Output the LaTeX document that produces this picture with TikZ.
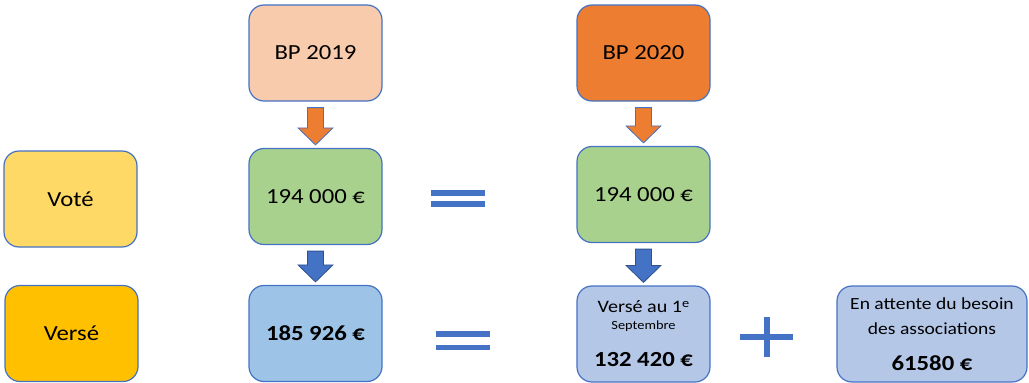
\documentclass[tikz,border=0pt]{standalone}
\usepackage{fontspec}
\setmainfont{Carlito}[FakeStretch=1.15]
\usetikzlibrary{calc}
\definecolor{bord}{HTML}{4472C4}
\definecolor{peach}{HTML}{F8CBAD}
\definecolor{orng}{HTML}{ED7D31}
\definecolor{grn}{HTML}{A9D18E}
\definecolor{blu}{HTML}{9DC3E6}
\definecolor{lav}{HTML}{B4C7E7}
\definecolor{yel}{HTML}{FFD966}
\definecolor{gold}{HTML}{FFC000}
\definecolor{darkbord}{HTML}{2F528F}
\tikzset{
  box/.style={draw=bord, line width=1.2pt, rounded corners=15pt, minimum width=133pt, minimum height=96pt, inner sep=0pt, align=center, font=\fontsize{21.5}{25}\selectfont},
  eqbar/.style={fill=bord, draw=none},
}
\newcommand\blockarr[4]{%
  \filldraw[fill=#3, draw=#4, line width=0.8pt]
    let \p1=($(#1.south)+(0,6)$), \p2=($(#2.north)+(0,-3)$) in
    (\x1-8pt,\y1) -- (\x1+8pt,\y1) -- (\x1+8pt,\y2+17pt) -- (\x1+17.5pt,\y2+17pt)
    -- (\x1,\y2) -- (\x1-17.5pt,\y2+17pt) -- (\x1-8pt,\y2+17pt) -- cycle;}
\begin{document}
\begin{tikzpicture}[x=1pt,y=-1pt]
\useasboundingbox (0,0) rectangle (1029,383);
% left labels
\node[box, fill=yel] (vote) at (70.5,199) {Voté};
\node[box, fill=gold] (verse) at (71.5,333.5) {Versé};
% BP 2019 column
\node[box, fill=peach] (bp19) at (315.5,53) {BP 2019};
\node[box, fill=grn] (g19) at (315.5,196.5) {194 000 €};
\node[box, fill=blu] (b19) at (315.5,333.5) {\textbf{185 926 €}};
% BP 2020 column
\node[box, fill=orng] (bp20) at (643.5,53) {BP 2020};
\node[box, fill=grn] (g20) at (643.5,194.5) {194 000 €};
\node[box, fill=lav] (b20) at (643.5,334)
  {\fontsize{17.5}{18}\selectfont Versé au 1\raisebox{5pt}{\fontsize{12.5}{12}\selectfont e}\\[-8pt]
   {\fontsize{12.5}{13}\selectfont Septembre}\\[12pt]
   \textbf{132 420 €}};
\node[box, fill=lav, minimum width=190pt] (att) at (932,334)
  {\fontsize{17}{23}\selectfont En attente du besoin\\ \fontsize{17}{23}\selectfont des associations\\[11pt]
   \textbf{61580 €}};
% block arrows
\blockarr{bp19}{g19}{orng}{bord}
\blockarr{g19}{b19}{bord}{darkbord}
\blockarr{bp20}{g20}{orng}{bord}
\blockarr{g20}{b20}{bord}{darkbord}
% equals signs
\fill[eqbar] (431,190) rectangle (485,196);
\fill[eqbar] (431,201) rectangle (485,206.5);
\fill[eqbar] (436,331) rectangle (490,337);
\fill[eqbar] (436,344.5) rectangle (490,350);
% plus sign
\fill[eqbar] (740,334) rectangle (793,340);
\fill[eqbar] (764,317) rectangle (769.5,357);
\end{tikzpicture}
\end{document}
